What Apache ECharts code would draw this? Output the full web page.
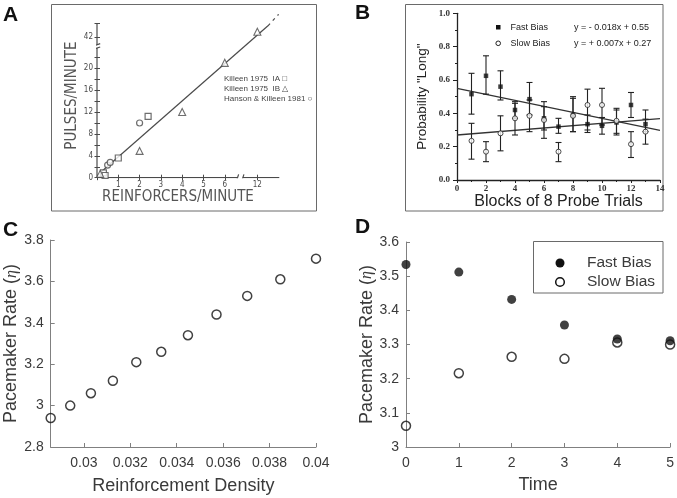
<!DOCTYPE html>
<html><head><meta charset="utf-8">
<script src="https://cdn.jsdelivr.net/npm/echarts@6/dist/echarts.min.js"></script>
<style>html,body{margin:0;padding:0;background:#fff}#c{width:677px;height:498px}</style>
</head><body><div id="c"></div>
<script>
// ---------- Panel A (values in real units) ----------
const aSquares   = [[0.3,0.9],[0.38,0.4],[1.0,3.6],[2.4,11.2]];
const aTriangles = [[0.15,0.7],[2.0,4.9],[4.0,12.0],[6.0,21.0],[12,43]];
const aCircles   = [[0.5,2.3],[0.62,2.8],[2.0,10.0]];
const aFitSolid  = [[0.15,0.9],[12.5,44.1]];
const aFitDash   = [[12.5,44.1],[13.0,46.2]];
const aXLabels   = [1,2,3,4,5,6,12];
const aXTicks    = [0,1,2,3,4,5,6,12];
const aYLabels   = [0,4,8,12,16,20,42];
const aYTicks    = [0,2,4,6,8,10,12,14,16,18,20,22,42,44.6];
const aLegend    = ['Killeen 1975  IA \u25A1','Killeen 1975  IB \u25B3','Hanson & Killeen 1981 \u25CB'];

// ---------- Panel B ----------
const bBlocks   = [1,2,3,4,5,6,7,8,9,10,11,12,13];
const bFastMean = [0.515,0.625,0.56,0.42,0.485,0.37,0.32,0.39,0.335,0.325,0.345,0.45,0.335];
const bFastLow  = [0.395,0.515,0.48,0.37,0.39,0.30,0.28,0.29,0.285,0.275,0.28,0.375,0.29];
const bFastHigh = [0.64,0.745,0.655,0.47,0.585,0.47,0.37,0.50,0.39,0.375,0.43,0.525,0.42];
const bSlowMean = [0.235,0.17,0.28,0.37,0.385,0.36,0.17,0.385,0.45,0.45,0.355,0.215,0.29];
const bSlowLow  = [0.125,0.11,0.175,0.27,0.29,0.25,0.11,0.29,0.30,0.33,0.27,0.135,0.215];
const bSlowHigh = [0.34,0.23,0.385,0.46,0.48,0.44,0.225,0.49,0.545,0.55,0.42,0.29,0.365];
const bFastFit  = [[0,0.55],[14,0.298]];
const bSlowFit  = [[0,0.27],[14,0.368]];
const bLegend   = ['Fast Bias','Slow Bias'];
const bEquations= ['y = - 0.018x + 0.55','y = + 0.007x + 0.27'];

// ---------- Panel C ----------
const cDensity = [0.028571,0.029412,0.030303,0.03125,0.032258,0.033333,0.034483,0.035714,0.037037,0.038462,0.04];
const cRate    = [2.94,3.00,3.06,3.12,3.21,3.26,3.34,3.44,3.53,3.61,3.71];
const cXTicks  = [0.03,0.032,0.034,0.036,0.038,0.04];

// ---------- Panel D ----------
const dTime = [0,1,2,3,4,5];
const dFast = [3.534,3.512,3.432,3.357,3.316,3.311];
const dSlow = [3.062,3.216,3.264,3.258,3.306,3.300];
const dLegend = ['Fast Bias','Slow Bias'];

// broken-axis mapping for panel A
const AXB = 6.7, AXOFF = 4.47, AYB = 24, AYOFF = 16.33;
const dx = x => x <= AXB ? x : x - AXOFF;
const dy = y => y <= AYB ? y : y - AYOFF;
const dA = p => [dx(p[0]), dy(p[1])];
const near = (a,b) => Math.abs(a-b) < 1e-6;

const chart = echarts.init(document.getElementById('c'), null, {renderer:'canvas'});
const grayA = '#4a4a4a';
const fA = "'Liberation Sans Narrow','DejaVu Sans Condensed','Liberation Sans',sans-serif";
const fS = "'Liberation Sans',Arial,sans-serif";
const fSerif = "'Liberation Serif','DejaVu Serif',serif";
const axC = '#808080', txC = '#3a3a3a';

function errRender(params, api){
  const x = api.value(0), lo = api.value(1), hi = api.value(2);
  const p1 = api.coord([x, hi]), p2 = api.coord([x, lo]);
  const w = 3, st = {stroke:'#222', lineWidth:1.1};
  return {type:'group', children:[
    {type:'line', shape:{x1:p1[0],y1:p1[1],x2:p2[0],y2:p2[1]}, style:st},
    {type:'line', shape:{x1:p1[0]-w,y1:p1[1],x2:p1[0]+w,y2:p1[1]}, style:st},
    {type:'line', shape:{x1:p2[0]-w,y1:p2[1],x2:p2[0]+w,y2:p2[1]}, style:st}
  ]};
}

const aXMax = dx(13.03), aYTop = dy(44.6);
const segStyle = {color:grayA, width:1.2};
function seg(data){ return {type:'line', xAxisIndex:0, yAxisIndex:0, data, symbol:'none', silent:true, lineStyle:segStyle, z:1}; }

const option = {
  animation:false,
  backgroundColor:'#fff',
  grid:[
    {left:97, top:13.6, width:181, height:164.1},
    {left:457, top:13.3, width:203, height:166.7},
    {left:50.7, top:240, width:265.3, height:207},
    {left:406, top:242, width:266, height:205}
  ],
  xAxis:[
    {gridIndex:0, type:'value', min:0, max:8.5, position:'bottom',
     axisLine:{show:false}, splitLine:{show:false},
     axisTick:{show:true, inside:true, length:3, lineStyle:{color:grayA}, customValues:aXTicks.map(dx)},
     axisLabel:{show:true, margin:3, fontSize:8, color:grayA, fontFamily:fA, customValues:aXLabels.map(dx),
       formatter:v => { const i = aXLabels.findIndex(t => near(dx(t), v)); return i>=0 ? String(aXLabels[i]) : ''; }},
     name:'REINFORCERS/MINUTE', nameLocation:'middle', nameGap:9,
     nameTextStyle:{fontSize:15, color:'#555', fontFamily:fA, padding:[0,19,0,0]}},
    {gridIndex:0, type:'value', min:0, max:8.5, position:'bottom', offset:0,
     axisLine:{show:false}, splitLine:{show:false}, axisLabel:{show:false},
     axisTick:{show:true, inside:false, length:2.5, lineStyle:{color:grayA}, customValues:aXTicks.map(dx)}},
    {gridIndex:1, type:'value', min:0, max:14, interval:2,
     axisLine:{show:true, lineStyle:{color:'#222', width:1.3}}, splitLine:{show:false},
     axisTick:{show:true, inside:false, length:3, lineStyle:{color:'#222'}},
     minorTick:{show:true, splitNumber:2, length:2, lineStyle:{color:'#222'}},
     axisLabel:{fontSize:9, color:'#333', fontFamily:fSerif, fontWeight:'bold', margin:4},
     name:'Blocks of 8 Probe Trials', nameLocation:'middle', nameGap:14,
     nameTextStyle:{fontSize:16, color:'#222', fontFamily:fS}},
    {gridIndex:2, type:'value', min:0.028571, max:0.04,
     axisLine:{show:true, lineStyle:{color:axC, width:1}}, splitLine:{show:false},
     axisTick:{show:true, inside:true, length:4, lineStyle:{color:axC}, customValues:cXTicks},
     axisLabel:{fontSize:14, color:txC, fontFamily:fS, margin:9, customValues:cXTicks,
       formatter:v => String(+v.toFixed(3))},
     name:'Reinforcement Density', nameLocation:'middle', nameGap:30,
     nameTextStyle:{fontSize:18, color:txC, fontFamily:fS}},
    {gridIndex:3, type:'value', min:0, max:5, interval:1,
     axisLine:{show:true, lineStyle:{color:axC, width:1}}, splitLine:{show:false},
     axisTick:{show:true, inside:true, length:4, lineStyle:{color:axC}},
     axisLabel:{fontSize:14, color:txC, fontFamily:fS, margin:9},
     name:'Time', nameLocation:'middle', nameGap:29,
     nameTextStyle:{fontSize:18, color:txC, fontFamily:fS}}
  ],
  yAxis:[
    {gridIndex:0, type:'value', min:0, max:30, position:'left',
     axisLine:{show:false}, splitLine:{show:false},
     axisTick:{show:true, inside:true, length:3, lineStyle:{color:grayA}, customValues:aYTicks.map(dy)},
     axisLabel:{show:true, margin:4, fontSize:8, color:grayA, fontFamily:fA, customValues:aYLabels.map(dy),
       formatter:v => { const i = aYLabels.findIndex(t => near(dy(t), v)); return i>=0 ? String(aYLabels[i]) : ''; }},
     name:'PULSES/MINUTE', nameLocation:'middle', nameGap:14, nameRotate:90,
     nameTextStyle:{fontSize:15, color:'#555', fontFamily:fA}},
    {gridIndex:0, type:'value', min:0, max:30, position:'left', offset:0,
     axisLine:{show:false}, splitLine:{show:false}, axisLabel:{show:false},
     axisTick:{show:true, inside:false, length:2.5, lineStyle:{color:grayA}, customValues:aYTicks.map(dy)}},
    {gridIndex:1, type:'value', min:0, max:1, interval:0.2,
     axisLine:{show:true, lineStyle:{color:'#222', width:1.3}}, splitLine:{show:false},
     axisTick:{show:true, inside:false, length:4, lineStyle:{color:'#222'}},
     minorTick:{show:true, splitNumber:2, length:2, lineStyle:{color:'#222'}},
     axisLabel:{fontSize:9, color:'#333', fontFamily:fSerif, fontWeight:'bold', margin:7, formatter:v => v.toFixed(1)},
     name:'Probability "Long"', nameLocation:'middle', nameGap:28,
     nameTextStyle:{fontSize:13.5, color:'#222', fontFamily:fS}},
    {gridIndex:2, type:'value', min:2.8, max:3.8, interval:0.2,
     axisLine:{show:true, lineStyle:{color:axC, width:1}}, splitLine:{show:false},
     axisTick:{show:true, inside:true, length:4, lineStyle:{color:axC}},
     axisLabel:{fontSize:14, color:txC, fontFamily:fS, margin:7},
     name:'Pacemaker Rate ({e|\u03b7})', nameLocation:'middle', nameGap:29,
     nameTextStyle:{fontSize:18, color:txC, fontFamily:fS,
       rich:{e:{fontSize:16, fontStyle:'italic', fontFamily:fSerif, color:txC}}}},
    {gridIndex:3, type:'value', min:3, max:3.6, interval:0.1,
     axisLine:{show:true, lineStyle:{color:axC, width:1}}, splitLine:{show:false},
     axisTick:{show:true, inside:true, length:4, lineStyle:{color:axC}},
     axisLabel:{fontSize:14, color:txC, fontFamily:fS, margin:7},
     name:'Pacemaker Rate ({e|\u03b7})', nameLocation:'middle', nameGap:29,
     nameTextStyle:{fontSize:18, color:txC, fontFamily:fS,
       rich:{e:{fontSize:16, fontStyle:'italic', fontFamily:fSerif, color:txC}}}}
  ],
  series:[
    // ----- Panel A -----
    seg([[0,0],[6.6,0]]),
    seg([[6.85,0],[aXMax,0]]),
    seg([[0,0],[0,23.7]]),
    seg([[0,24.3],[0,aYTop]]),
    seg([[6.55,-0.6],[6.65,0.6]]),
    seg([[6.8,-0.6],[6.9,0.6]]),
    seg([[-0.15,23.5],[0.15,23.9]]),
    seg([[-0.15,24.1],[0.15,24.5]]),
    {type:'line', xAxisIndex:0, yAxisIndex:0, data:aFitSolid.map(dA), symbol:'none', silent:true,
     lineStyle:{color:grayA, width:1.2}, z:2},
    {type:'line', xAxisIndex:0, yAxisIndex:0, data:aFitDash.map(dA), symbol:'none', silent:true,
     lineStyle:{color:grayA, width:1.2, type:[3,4]}, z:2},
    {type:'scatter', name:'Killeen 1975 IA', xAxisIndex:0, yAxisIndex:0, data:aSquares.map(dA), symbol:'rect', symbolSize:6, clip:false,
     itemStyle:{color:'#fff', borderColor:grayA, borderWidth:1.2}, z:3},
    {type:'scatter', name:'Killeen 1975 IB', xAxisIndex:0, yAxisIndex:0, data:aTriangles.map(dA), symbol:'triangle', symbolSize:7, clip:false,
     itemStyle:{color:'#fff', borderColor:grayA, borderWidth:1.1}, z:3},
    {type:'scatter', name:'Hanson & Killeen 1981', xAxisIndex:0, yAxisIndex:0, data:aCircles.map(dA), symbol:'circle', symbolSize:6, clip:false,
     itemStyle:{color:'#fff', borderColor:grayA, borderWidth:1.2}, z:3},
    // ----- Panel B -----
    {type:'line', xAxisIndex:2, yAxisIndex:2, data:bFastFit, symbol:'none', silent:true, lineStyle:{color:'#333', width:1.3}, z:2},
    {type:'line', xAxisIndex:2, yAxisIndex:2, data:bSlowFit, symbol:'none', silent:true, lineStyle:{color:'#333', width:1.3}, z:2},
    {type:'custom', xAxisIndex:2, yAxisIndex:2, renderItem:errRender, encode:{x:0, y:[1,2]},
     data:bBlocks.map((b,i)=>[b,bFastLow[i],bFastHigh[i]]), z:3},
    {type:'custom', xAxisIndex:2, yAxisIndex:2, renderItem:errRender, encode:{x:0, y:[1,2]},
     data:bBlocks.map((b,i)=>[b,bSlowLow[i],bSlowHigh[i]]), z:3},
    {type:'scatter', name:'Fast Bias B', xAxisIndex:2, yAxisIndex:2, data:bBlocks.map((b,i)=>[b,bFastMean[i]]),
     symbol:'rect', symbolSize:4.5, itemStyle:{color:'#111'}, z:4},
    {type:'scatter', name:'Slow Bias B', xAxisIndex:2, yAxisIndex:2, data:bBlocks.map((b,i)=>[b,bSlowMean[i]]),
     symbol:'circle', symbolSize:5, itemStyle:{color:'#fff', borderColor:'#222', borderWidth:1}, z:4},
    // ----- Panel C -----
    {type:'scatter', xAxisIndex:3, yAxisIndex:3, data:cDensity.map((x,i)=>[x,cRate[i]]), clip:false,
     symbol:'circle', symbolSize:9, itemStyle:{color:'rgba(255,255,255,0)', borderColor:'#111', borderWidth:1.5}, z:5},
    // ----- Panel D -----
    {type:'scatter', name:dLegend[0], xAxisIndex:4, yAxisIndex:4, data:dTime.map((t,i)=>[t,dFast[i]]), clip:false,
     symbol:'circle', symbolSize:9, itemStyle:{color:'#111'}, z:5},
    {type:'scatter', name:dLegend[1], xAxisIndex:4, yAxisIndex:4, data:dTime.map((t,i)=>[t,dSlow[i]]), clip:false,
     symbol:'circle', symbolSize:9, itemStyle:{color:'rgba(255,255,255,0)', borderColor:'#111', borderWidth:1.5}, z:5}
  ],
  graphic:[
    // panel frames
    {type:'rect', shape:{x:51.5, y:4.5, width:265, height:206.5}, style:{fill:'none', stroke:'#6a6a6a', lineWidth:1}, z:0},
    {type:'rect', shape:{x:405.5, y:4.5, width:257.5, height:206.5}, style:{fill:'none', stroke:'#6a6a6a', lineWidth:1}, z:0},
    // panel letters
    {type:'text', x:3, y:5, style:{text:'A', font:"bold 21px 'Liberation Sans',Arial,sans-serif", fill:'#111'}},
    {type:'text', x:355, y:3, style:{text:'B', font:"bold 21px 'Liberation Sans',Arial,sans-serif", fill:'#111'}},
    {type:'text', x:3, y:220, style:{text:'C', font:"bold 21px 'Liberation Sans',Arial,sans-serif", fill:'#111'}},
    {type:'text', x:355, y:217, style:{text:'D', font:"bold 21px 'Liberation Sans',Arial,sans-serif", fill:'#111'}},
    // panel A legend
    {type:'text', x:224, y:79, style:{text:aLegend[0], font:"8px 'Liberation Sans',sans-serif", fill:'#444', verticalAlign:'middle'}},
    {type:'text', x:224, y:89, style:{text:aLegend[1], font:"8px 'Liberation Sans',sans-serif", fill:'#444', verticalAlign:'middle'}},
    {type:'text', x:224, y:99, style:{text:aLegend[2], font:"8px 'Liberation Sans',sans-serif", fill:'#444', verticalAlign:'middle'}},
    // panel B legend
    {type:'rect', shape:{x:496, y:25, width:4.5, height:4.5}, style:{fill:'#111'}},
    {type:'circle', shape:{cx:498.2, cy:43.3, r:2.3}, style:{fill:'#fff', stroke:'#222', lineWidth:1}},
    {type:'text', x:510.5, y:27.3, style:{text:bLegend[0], font:"9px 'Liberation Sans',sans-serif", fill:'#222', verticalAlign:'middle'}},
    {type:'text', x:510.5, y:43.3, style:{text:bLegend[1], font:"9px 'Liberation Sans',sans-serif", fill:'#222', verticalAlign:'middle'}},
    {type:'text', x:574, y:27.3, style:{text:bEquations[0], font:"9px 'Liberation Sans',sans-serif", fill:'#222', verticalAlign:'middle'}},
    {type:'text', x:574, y:43.3, style:{text:bEquations[1], font:"9px 'Liberation Sans',sans-serif", fill:'#222', verticalAlign:'middle'}},
    // panel D legend
    {type:'rect', shape:{x:533.5, y:241.5, width:129.5, height:51.5}, style:{fill:'#fff', stroke:'#6a6a6a', lineWidth:1}, z:10},
    {type:'circle', shape:{cx:560, cy:263, r:4.5}, style:{fill:'#111'}, z:11},
    {type:'circle', shape:{cx:560, cy:282, r:4.3}, style:{fill:'#fff', stroke:'#111', lineWidth:1.5}, z:11},
    {type:'text', x:587, y:263, style:{text:dLegend[0], font:"15.5px 'Liberation Sans',Arial,sans-serif", fill:txC, verticalAlign:'middle'}, z:11},
    {type:'text', x:587, y:282, style:{text:dLegend[1], font:"15.5px 'Liberation Sans',Arial,sans-serif", fill:txC, verticalAlign:'middle'}, z:11}
  ]
};
chart.setOption(option);
</script>
</body></html>
